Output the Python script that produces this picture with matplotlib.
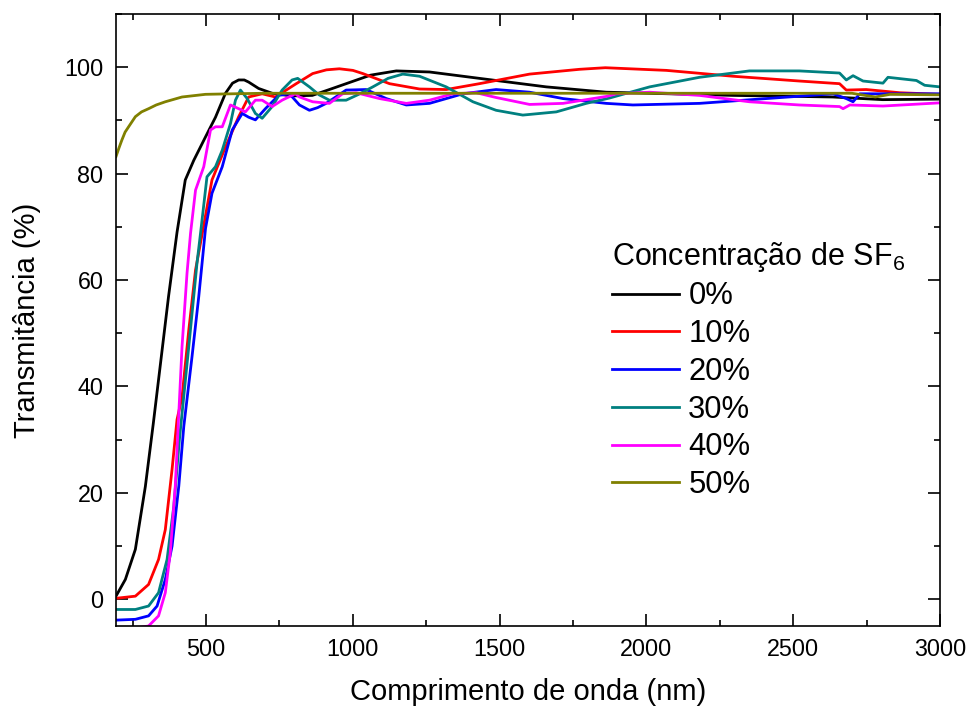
import matplotlib
matplotlib.use('Agg')
import matplotlib.pyplot as plt
from matplotlib.ticker import MultipleLocator

plt.rcParams['font.family'] = ['Liberation Sans', 'DejaVu Sans']
plt.rcParams['mathtext.fontset'] = 'custom'
plt.rcParams['mathtext.rm'] = 'Liberation Sans'
plt.rcParams['mathtext.it'] = 'Liberation Sans'

# Transmittance curves (wavelength nm, transmittance %)
x0 = [193, 225, 259, 293, 320, 372, 401, 429, 458, 498, 532, 566, 590, 611, 630, 645, 679, 725,
      790, 862, 920, 977, 1060, 1148, 1261, 1431, 1659, 1863, 2294, 2634, 2805, 3000]
y0 = [0.6, 3.75, 9.4, 21.2, 33.0, 56.9, 69.0, 78.8, 82.5, 86.9, 90.6, 95.1, 97.0, 97.6, 97.6, 97.2, 96.0, 95.1,
      94.6, 94.7, 95.8, 96.9, 98.5, 99.3, 99.1, 97.9, 96.3, 95.3, 94.7, 94.4, 93.9, 94.0]

x10 = [193, 259, 304, 338, 361, 384, 401, 418, 441, 464, 490, 520, 566, 611, 645, 691, 736,
       807, 863, 910, 954, 1000, 1034, 1125, 1227, 1318, 1431, 1602, 1772, 1860, 2068, 2294, 2521, 2658,
       2681, 2749, 2863, 3000]
y10 = [0.2, 0.6, 2.8, 7.5, 13.1, 24.4, 33.8, 38.0, 50.6, 61.9, 69.7, 78.8, 85.0, 90.7, 94.4, 95.0, 94.4,
       96.9, 98.8, 99.5, 99.7, 99.4, 98.8, 96.9, 95.9, 95.8, 96.9, 98.7, 99.6, 99.9, 99.4, 98.3, 97.4, 96.9,
       95.7, 95.8, 95.2, 94.9]

x20 = [193, 259, 304, 333, 361, 384, 407, 424, 452, 475, 498, 520, 555, 589, 623, 645, 668, 702, 747,
       784, 818, 852, 880, 909, 977, 1045, 1114, 1182, 1261, 1375, 1488, 1602, 1716, 1863, 1954, 2181,
       2408, 2636, 2681, 2704, 2727, 2863, 3000]
y20 = [-3.9, -3.75, -3.1, -1.25, 3.75, 10.0, 21.3, 32.5, 45.6, 56.9, 69.7, 76.3, 81.3, 88.2, 91.3, 90.6, 90.1, 92.2, 94.7,
       95.0, 92.9, 91.9, 92.4, 93.2, 95.7, 95.8, 94.1, 92.9, 93.2, 95.0, 95.8, 95.3, 94.1, 93.2, 92.9, 93.2,
       94.1, 95.0, 94.1, 93.5, 95.0, 95.0, 95.0]

x30 = [193, 259, 304, 338, 367, 390, 409, 441, 469, 481, 503, 532, 555, 583, 600, 617, 640, 668,
       691, 725, 759, 793, 812, 852, 885, 920, 977, 1020, 1068, 1120, 1170, 1227, 1318, 1409, 1488, 1579, 1693,
       1795, 1874, 2011, 2181, 2351, 2521, 2658, 2681, 2704, 2738, 2806, 2823, 2920, 2948, 3000]
y30 = [-1.9, -1.9, -1.25, 1.25, 7.5, 17.5, 30.0, 47.5, 63.2, 68.8, 79.4, 81.3, 84.4, 89.4, 93.8, 95.7, 94.1, 91.3,
       90.4, 92.6, 95.7, 97.6, 97.9, 96.3, 94.8, 93.8, 93.8, 94.9, 96.3, 97.9, 98.7, 98.3, 96.3, 93.5, 91.9, 91.0, 91.6,
       93.2, 94.2, 96.3, 98.1, 99.3, 99.3, 98.9, 97.6, 98.4, 97.4, 97.0, 98.1, 97.5, 96.6, 96.3]

x40 = [193, 304, 338, 361, 378, 395, 418, 435, 447, 464, 492, 515, 532, 555, 583, 611, 634, 668,
       691, 725, 759, 804, 818, 863, 920, 965, 1011, 1091, 1182, 1261, 1341, 1420, 1488, 1602,
       1716, 1863, 1898, 2011, 2181, 2351, 2521, 2658, 2670, 2693, 2806, 3000]
y40 = [-6.0, -5.0, -3.1, 1.25, 8.8, 21.3, 47.5, 61.3, 68.8, 76.9, 81.3, 88.2, 88.8, 88.8, 92.9, 92.2, 91.6, 93.8,
       93.8, 92.6, 93.8, 95.0, 94.4, 93.5, 93.2, 95.0, 95.2, 94.1, 93.2, 93.8, 95.0, 95.2, 94.3, 93.0,
       93.2, 94.5, 95.0, 95.3, 94.7, 93.5, 92.9, 92.6, 92.2, 92.9, 92.7, 93.3]

x50 = [193, 203, 213, 224, 236, 259, 280, 304, 330, 361, 418, 498, 589, 700, 1000, 1500, 2000, 2500, 2700,
       2780, 2830, 3000]
y50 = [83.2, 84.8, 86.3, 87.8, 88.8, 90.7, 91.6, 92.2, 92.9, 93.5, 94.4, 94.9, 95.0, 95.1, 95.1, 95.1, 95.1, 95.1,
       95.1, 94.4, 94.9, 94.8]

labels = ['0%', '10%', '20%', '30%', '40%', '50%']
colors = ['black', '#FF0000', '#0000FF', '#008080', '#FF00FF', '#808000']

fig = plt.figure(figsize=(9.69, 7.09), dpi=100)
ax = fig.add_axes([0.1197, 0.1171, 0.8503, 0.8632])

series = [(x0, y0), (x10, y10), (x20, y20), (x30, y30), (x40, y40), (x50, y50)]
for (xs, ys), lab, c in zip(series, labels, colors):
    ax.plot(xs, ys, color=c, lw=2.0, label=lab)

ax.set_xlim(193, 3000)
ax.set_ylim(-5, 110)
ax.xaxis.set_major_locator(MultipleLocator(500))
ax.xaxis.set_minor_locator(MultipleLocator(250))
ax.yaxis.set_major_locator(MultipleLocator(20))
ax.yaxis.set_minor_locator(MultipleLocator(10))
ax.tick_params(which='both', direction='in', top=True, right=True, width=1.2,
               labelsize=16.8, pad=9)
ax.tick_params(which='major', length=8.5)
ax.tick_params(which='minor', length=4.5)
for s in ax.spines.values():
    s.set_linewidth(1.2)

ax.set_xlabel('Comprimento de onda (nm)', fontsize=21, labelpad=12)
ax.set_ylabel('Transmitância (%)', fontsize=21, labelpad=17)

leg = ax.legend(title='Concentração de SF$_6$', loc='upper left',
                bbox_to_anchor=(0.632, 0.662), bbox_transform=fig.transFigure,
                frameon=False, fontsize=22.3, title_fontsize=22,
                handlelength=2.15, handletextpad=0.3, labelspacing=0.25,
                borderaxespad=0, borderpad=0, alignment='left')

fig.savefig('out.png', dpi=100)
